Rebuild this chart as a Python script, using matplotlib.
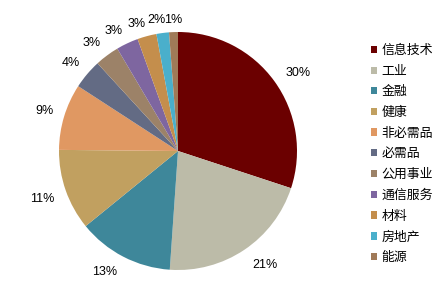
import matplotlib
matplotlib.use("Agg")
import matplotlib.pyplot as plt
from matplotlib.patches import Patch
import numpy as np

plt.rcParams['font.family'] = ['Liberation Sans', 'Noto Sans CJK SC', 'DejaVu Sans']

categories = ['信息技术', '工业', '金融', '健康', '非必需品', '必需品', '公用事业', '通信服务', '材料', '房地产', '能源']
values = [30.0, 21.0, 13.0, 11.0, 9.0, 4.0, 3.3, 3.0, 2.6, 1.7, 1.2]
colors = ['#6B0000', '#BCBBA8', '#3E879A', '#C1A060', '#E09862', '#636B84',
          '#9C8268', '#7E66A0', '#C48E4C', '#4AAFCB', '#A07A58']
# label placement: radial distance (x radius) and angular nudge (degrees)
label_dist = [1.2, 1.2, 1.19, 1.21, 1.17, 1.17, 1.16, 1.147, 1.126, 1.116, 1.10]
label_rot = [-3, 3.4, -4, 0, 0, 0.8, 2, 3, 2.8, 2, 0]

fig = plt.figure(figsize=(4.41, 2.91), dpi=100)
cx, cy, r = 178, 151, 119
W, H = 441, 291
ax = fig.add_axes([(cx - r) / W, (H - cy - r) / H, 2 * r / W, 2 * r / H])
wedges, texts, autotexts = ax.pie(values, colors=colors, startangle=90, counterclock=False,
                                  autopct=lambda p: f'{p:.0f}%', pctdistance=1.0,
                                  textprops={'fontsize': 9, 'color': '#000000'},
                                  wedgeprops={'linewidth': 0})
for t, d, rot in zip(autotexts, label_dist, label_rot):
    x, y = t.get_position()
    a = np.arctan2(y, x) + np.deg2rad(rot)
    t.set_position((d * np.cos(a), d * np.sin(a)))
ax.set_xlim(-1, 1)
ax.set_ylim(-1, 1)
ax.set_aspect('equal')

handles = [Patch(facecolor=c, edgecolor='none') for c in colors]
fig.legend(handles, categories, loc='upper left', bbox_to_anchor=(371 / W, 1 - 45 / H),
           frameon=False, fontsize=9.3, handlelength=0.5, handleheight=0.5,
           handletextpad=0.3, labelspacing=0.665, borderaxespad=0, borderpad=0)

fig.savefig('out.png', dpi=100)
